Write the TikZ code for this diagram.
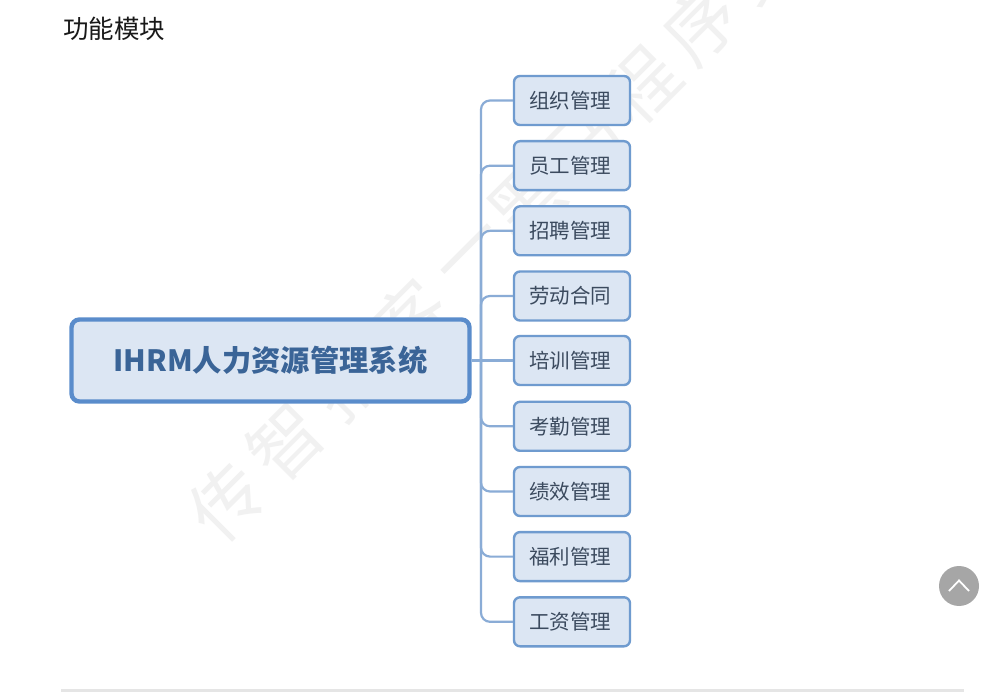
\documentclass[tikz,border=0pt]{standalone}
\usepackage{fontspec}
\setmainfont{Noto Sans CJK SC}
\usetikzlibrary{calc}
\definecolor{boxfill}{HTML}{DCE6F3}
\definecolor{boxedge}{HTML}{6F9BCF}
\definecolor{rootedge}{HTML}{5A8CCB}
\definecolor{linkcol}{HTML}{8AACD6}
\definecolor{roottext}{HTML}{3A6497}
\definecolor{subtext}{HTML}{3B4A5E}
\definecolor{marktext}{HTML}{F1F1F1}
\tikzset{
  subbox/.style={draw=boxedge,fill=boxfill,line width=2.4pt,rounded corners=6pt,minimum width=116pt,minimum height=49pt,inner sep=0pt,text=subtext,font=\fontsize{20.5}{24}\selectfont},
  rootbox/.style={draw=rootedge,fill=boxfill,line width=4.4pt,rounded corners=8pt,minimum width=398pt,minimum height=82pt,inner sep=0pt,text=roottext,font=\fontsize{29.3}{34}\selectfont\bfseries},
  link/.style={draw=linkcol,line width=2.2pt,rounded corners=9pt},
  wmark/.style={text=marktext,rotate=45,inner sep=0pt,font=\fontsize{72}{74}\selectfont},
  titletext/.style={anchor=west,inner sep=0pt,text=black!90,font=\fontsize{25.5}{30}\selectfont},
}
\begin{document}
\begin{tikzpicture}[x=1pt,y=-1pt]
\useasboundingbox (0,0) rectangle (1002,692);
\fill[white] (0,0) rectangle (1002,692);
% watermark
\begin{scope}
\clip (0,0) rectangle (1002,692);
\node[wmark] (w1) at (227,502) {传};
\node[wmark] (w2) at (286,442) {智};
\node[wmark] (w3) at (348,381) {播};
\node[wmark] (w4) at (410,318) {客};
\node[wmark] (w5) at (475,258) {一};
\node[wmark] (w6) at (527,204) {黑};
\node[wmark] (w7) at (585,144) {马};
\node[wmark] (w8) at (642,86) {程};
\node[wmark] (w9) at (701,25) {序};
\node[wmark] (w10) at (760,-34) {员};
\end{scope}
\node[titletext] (title) at (63,29) {功能模块};
\node[rootbox] (root) at (270.5,360.5) {IHRM人力资源管理系统};
\coordinate (trunk) at (481,360.5);
\foreach \n/\y/\t in {1/100.5/组织管理,2/165.7/员工管理,3/230.8/招聘管理,4/296/劳动合同,5/360.5/培训管理,6/426.3/考勤管理,7/491.5/绩效管理,8/556.6/福利管理,9/621.8/工资管理}{
  \node[subbox] (b\n) at (572,\y) {\t\hspace*{4pt}};
}
\foreach \n in {1,2,3,4,6,7,8,9}{
  \draw[link] (trunk) |- (b\n.west);
}
\draw[link] (root.east) -- (b5.west);
% page furniture
\fill[black!35] (959,586) circle (20);
\draw[white,line width=1.8pt] (949,591) -- (959,580.5) -- (969,591);
\fill[black!10] (61,689) rectangle (964,692);
\end{tikzpicture}
\end{document}
